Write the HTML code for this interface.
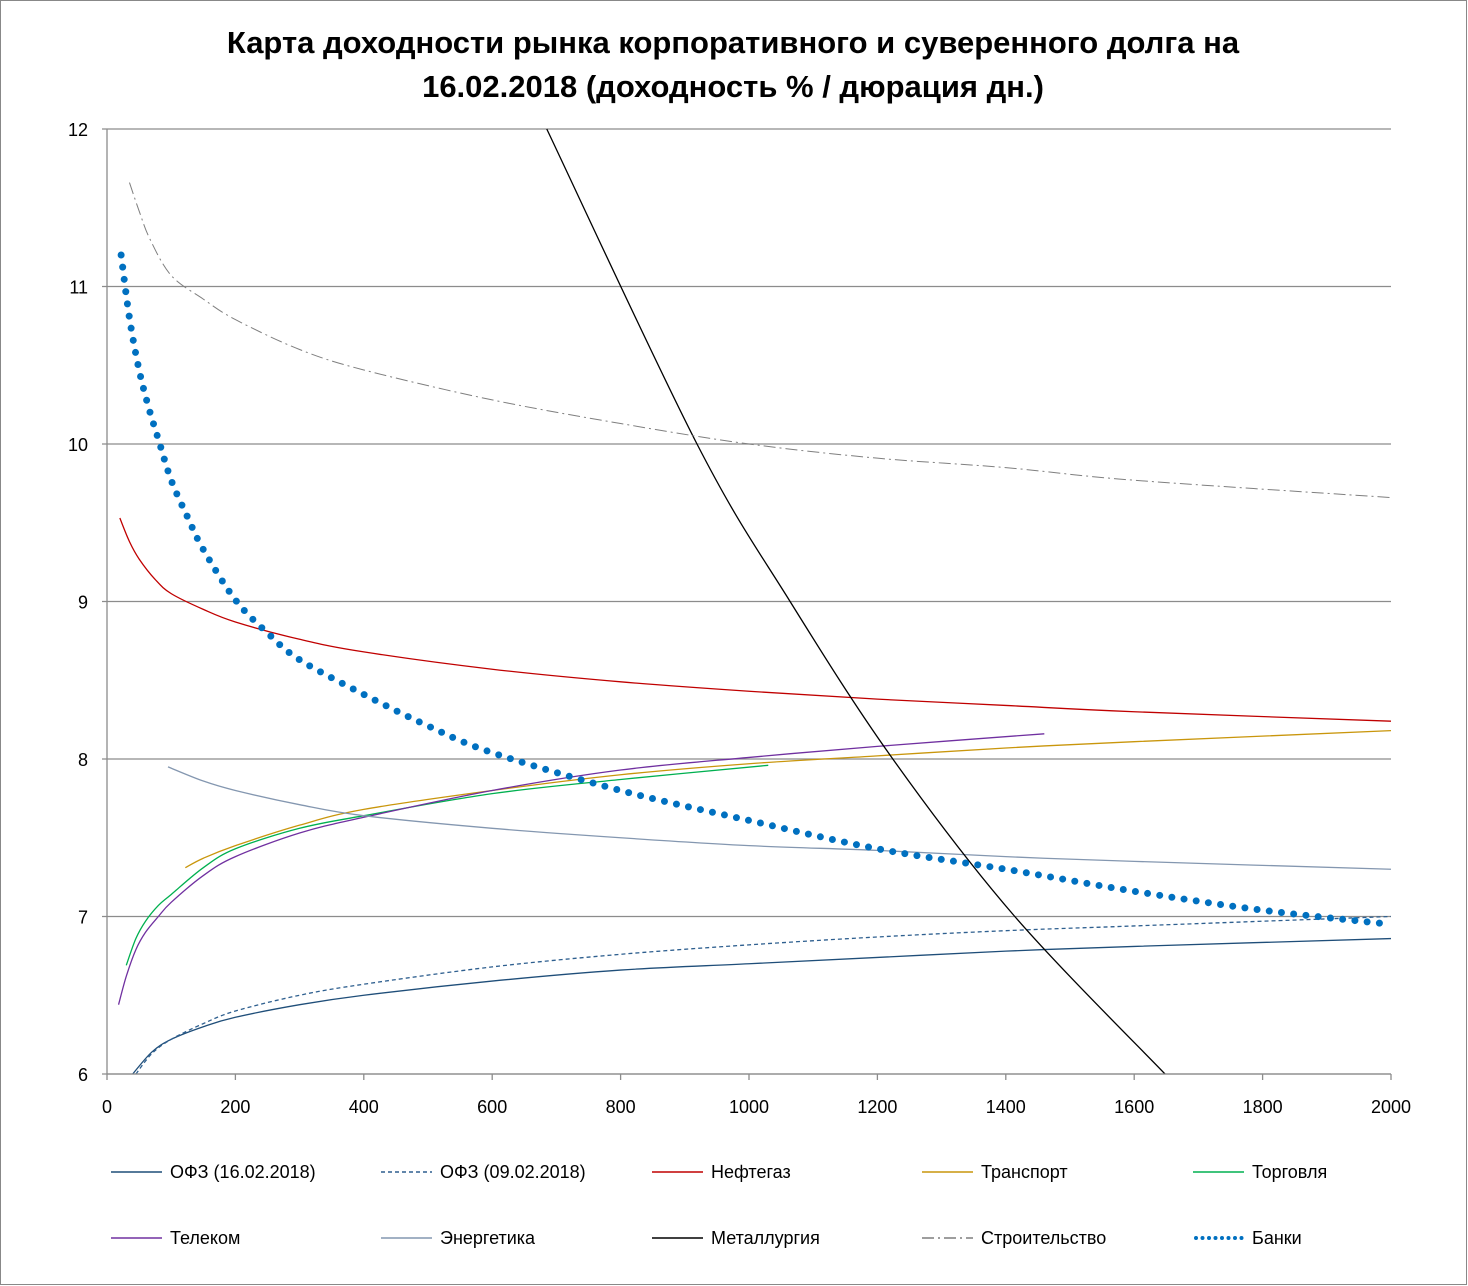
<!DOCTYPE html>
<html><head><meta charset="utf-8"><style>
body{margin:0;background:#fff;}
svg{display:block;font-family:"Liberation Sans",sans-serif;}
</style></head><body>
<svg id="chart" width="1468" height="1286" viewBox="0 0 1468 1286" xmlns="http://www.w3.org/2000/svg">
<rect x="0.5" y="0.5" width="1466" height="1284" fill="#fff" stroke="#888"/>
<text x="733" y="53" text-anchor="middle" font-size="31" font-weight="bold">Карта доходности рынка корпоративного и суверенного долга на</text>
<text x="733" y="97" text-anchor="middle" font-size="31" font-weight="bold">16.02.2018 (доходность % / дюрация дн.)</text>
<g id="grid"></g><g id="series"></g><g id="axes"></g><g id="legend"></g>
</svg>
<script>
const xTicks=[0,200,400,600,800,1000,1200,1400,1600,1800,2000];
const yTicks=[6,7,8,9,10,11,12];
const seriesNames=["ОФЗ (16.02.2018)","ОФЗ (09.02.2018)","Нефтегаз","Транспорт","Торговля","Телеком","Энергетика","Металлургия","Строительство","Банки"];
const ofz16X=[40,70,100,150,200,300,400,600,800,1000,1200,1400,1600,2000];
const ofz16Y=[6,6.14,6.22,6.3,6.36,6.44,6.5,6.59,6.66,6.7,6.74,6.78,6.81,6.86];
const ofz09X=[45,70,100,150,200,300,400,600,800,1000,1200,1400,1600,2000];
const ofz09Y=[6,6.13,6.22,6.32,6.4,6.5,6.57,6.68,6.76,6.82,6.87,6.91,6.94,7.0];
const neftX=[20,35,50,75,100,150,200,300,400,600,800,1000,1200,1400,1600,2000];
const neftY=[9.53,9.38,9.27,9.14,9.05,8.95,8.87,8.76,8.68,8.57,8.49,8.43,8.38,8.34,8.3,8.24];
const transX=[122,150,200,300,400,600,800,1000,1200,1400,1600,2000];
const transY=[7.31,7.37,7.45,7.58,7.68,7.8,7.9,7.97,8.02,8.07,8.11,8.18];
const tradeX=[30,45,60,80,100,150,200,300,400,600,800,1030];
const tradeY=[6.69,6.86,6.97,7.07,7.14,7.31,7.43,7.56,7.64,7.78,7.87,7.96];
const telX=[18,30,45,60,80,100,150,200,300,400,600,800,1000,1200,1460];
const telY=[6.44,6.62,6.79,6.9,7.0,7.09,7.26,7.38,7.53,7.63,7.8,7.93,8.01,8.08,8.16];
const energyX=[95,150,200,300,400,600,800,1000,1200,1400,1600,2000];
const energyY=[7.95,7.86,7.8,7.71,7.64,7.56,7.5,7.45,7.42,7.38,7.35,7.3];
const metalX=[685,919,1064,1224,1414,1648];
const metalY=[12,10,9,8,7,6];
const buildX=[35,50,67,100,150,200,300,400,600,800,1000,1200,1400,1600,2000];
const buildY=[11.66,11.48,11.3,11.07,10.92,10.79,10.6,10.47,10.28,10.13,10.0,9.91,9.85,9.77,9.66];
const bankX=[22,35,50,65,80,100,125,150,200,250,300,400,500,600,800,1000,1200,1400,1600,1800,2000];
const bankY=[11.2,10.8,10.47,10.23,10.03,9.77,9.54,9.33,9.01,8.8,8.63,8.41,8.21,8.04,7.8,7.61,7.43,7.3,7.16,7.04,6.95];

const NS="http://www.w3.org/2000/svg";
const X0=107,X1=1391,Y0=1074,Y1=129;
const sx=v=>X0+(v/2000)*(X1-X0);
const sy=v=>Y0-(v-6)/6*(Y0-Y1);
function mk(tag,attrs,parent){const e=document.createElementNS(NS,tag);for(const k in attrs)e.setAttribute(k,attrs[k]);parent.appendChild(e);return e;}
const grid=document.getElementById('grid'),axes=document.getElementById('axes'),ser=document.getElementById('series'),leg=document.getElementById('legend');
yTicks.forEach(t=>{
 const l=mk('line',{x1:X0-5,x2:X1,y1:sy(t),y2:sy(t),stroke:'#8c8c8c','stroke-width':1.3},grid);
 
 
 const tx=mk('text',{x:88,y:sy(t)+7,'text-anchor':'end','font-size':18},axes);
 tx.textContent=t;
 
 
});
const ax=mk('line',{x1:X0,x2:X0,y1:Y1,y2:Y0,stroke:'#8c8c8c','stroke-width':1.3},axes);


const xa=mk('line',{x1:X0,x2:X1,y1:Y0,y2:Y0,stroke:'#8c8c8c','stroke-width':1.3},axes);


xTicks.forEach(t=>{
 const tk=mk('line',{x1:sx(t),x2:sx(t),y1:Y0,y2:Y0+6,stroke:'#8c8c8c','stroke-width':1.3},axes);
 
 
 const tx=mk('text',{x:sx(t),y:1113,'text-anchor':'middle','font-size':18},axes);
 tx.textContent=t;
 
 
});
function pathD(xs,ys){
 const p=xs.map((x,i)=>[sx(x),sy(ys[i])]);
 let d='M'+p[0][0]+','+p[0][1];
 for(let i=0;i<p.length-1;i++){
  const a=p[Math.max(0,i-1)],b=p[i],c=p[i+1],e=p[Math.min(p.length-1,i+2)];
  const c1=[b[0]+(c[0]-a[0])/6,b[1]+(c[1]-a[1])/6],c2=[c[0]-(e[0]-b[0])/6,c[1]-(e[1]-b[1])/6];
  d+=' C'+c1+' '+c2+' '+c;
 }
 return d;
}
const styles=[
 {x:ofz16X,y:ofz16Y,c:'#1f4e79',w:1.3,da:''},
 {x:ofz09X,y:ofz09Y,c:'#2e5f8f',w:1.3,da:'4 3'},
 {x:neftX,y:neftY,c:'#c00000',w:1.3,da:''},
 {x:transX,y:transY,c:'#c9960c',w:1.3,da:''},
 {x:tradeX,y:tradeY,c:'#00b050',w:1.3,da:''},
 {x:telX,y:telY,c:'#7030a0',w:1.3,da:''},
 {x:energyX,y:energyY,c:'#8497b0',w:1.3,da:''},
 {x:metalX,y:metalY,c:'#000',w:1.3,da:''},
 {x:buildX,y:buildY,c:'#7f7f7f',w:1,da:'12 4 2 4'},
 {x:bankX,y:bankY,c:'#0070c0',w:7,da:'0 12.3',cap:'round'}
];
const slugs=['ofz-16-02','ofz-09-02','neftegaz','transport','torgovlya','telekom','energetika','metallurgiya','stroitelstvo','banki'];
styles.forEach((s,i)=>{
 const p=mk('path',{d:pathD(s.x,s.y),fill:'none',stroke:s.c,'stroke-width':s.w,'stroke-dasharray':s.da,'stroke-linecap':s.cap||'butt'},ser);
 
 
});
const colX=[111,381,652,922,1193],rowY=[1172,1238];
styles.forEach((s,i)=>{
 const lx=colX[i%5],ly=rowY[Math.floor(i/5)];
 const g=mk('g',{},leg);
 
 
 mk('line',{x1:lx+(s.cap?3:0),x2:lx+51,y1:ly,y2:ly,stroke:s.c,'stroke-width':s.cap?4:1.5,'stroke-dasharray':s.cap?'0 6.5':s.da,'stroke-linecap':s.cap||'butt'},g);
 const t=mk('text',{x:lx+59,y:ly+6,'font-size':18},g);
 t.textContent=seriesNames[i];
});
</script>
</body></html>
